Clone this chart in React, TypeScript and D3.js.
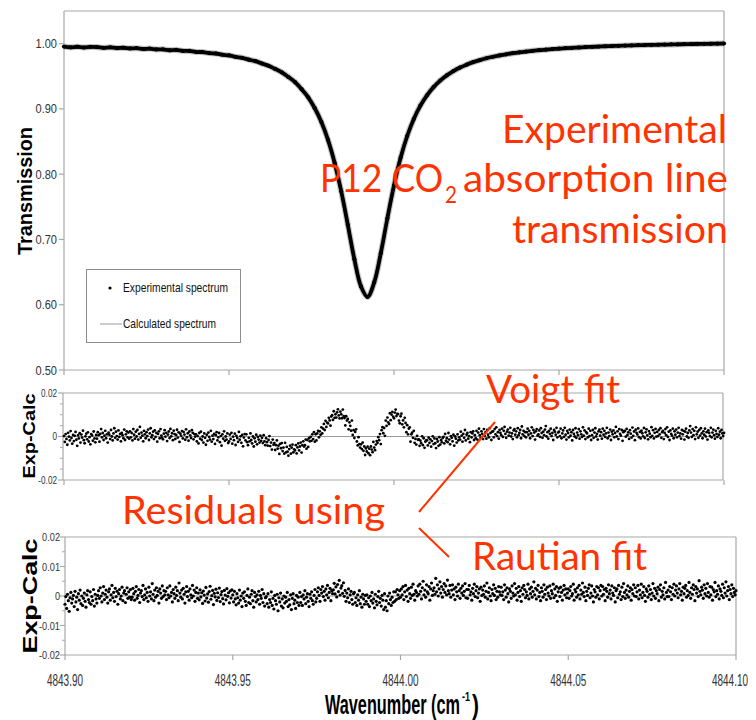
import React from "react";
import * as d3 from "d3";

// ---------- data ----------
const WN_START = 4843.9;
const WN_END = 4844.1;

// Transmission spectrum, evenly sampled from 4843.900 to 4844.100 cm-1
const transmission = [
  0.9955, 0.9944, 0.9952, 0.9941, 0.995, 0.9947, 0.9936, 0.9944, 0.9932, 0.9937,
  0.9926, 0.9931, 0.9918, 0.9924, 0.9911, 0.9913, 0.9899, 0.9903, 0.9889, 0.9888,
  0.9872, 0.9871, 0.9855, 0.9849, 0.983, 0.982, 0.9797, 0.9782, 0.9755, 0.9731,
  0.9695, 0.9661, 0.9612, 0.956, 0.9489, 0.9411, 0.9303, 0.9178, 0.901, 0.8799,
  0.8525, 0.8175, 0.7739, 0.7225, 0.6696, 0.628, 0.612, 0.6341, 0.679, 0.7325,
  0.7828, 0.825, 0.8585, 0.8847, 0.9051, 0.9209, 0.9334, 0.9434, 0.9514, 0.958,
  0.9634, 0.9678, 0.9717, 0.9748, 0.9776, 0.9799, 0.9819, 0.9837, 0.9853, 0.9867,
  0.9879, 0.989, 0.99, 0.9908, 0.9916, 0.9924, 0.993, 0.9936, 0.9941, 0.9947,
  0.9951, 0.9955, 0.996, 0.9963, 0.9967, 0.997, 0.9973, 0.9976, 0.9978, 0.9981,
  0.9983, 0.9985, 0.9988, 0.9989, 0.9992, 0.9994, 0.9995, 0.9997, 0.9998, 1.0,
  1.0002,
];

// Voigt-fit residuals (Exp-Calc) in units of 1e-4, evenly sampled over the range
const voigtResiduals = [
  2,-25,11,-11,-38,17,-1,-18,25,-7,-33,7,-21,3,21,-15,-43,5,-9,15,-28,9,-5,27,-17,-31,1,13,-13,19,-23,-3,-36,11,5,-19,23,-9,-27,7,
  -10,20,6,-24,12,34,-4,16,-16,4,26,-8,10,-28,18,8,-12,30,0,-18,14,38,-6,22,2,-14,28,-2,12,-22,16,6,-8,32,-16,10,24,-4,18,-10,
  24,-4,16,-18,34,8,-10,22,0,30,-14,12,44,-6,18,4,-22,26,10,-8,20,2,32,-16,14,38,-4,6,22,-12,28,-2,16,-24,12,24,-8,34,4,-6,
  -13,13,29,-1,17,-21,9,23,-7,35,1,15,-17,27,11,-11,7,31,-5,19,-25,13,3,25,-9,21,9,-15,33,-3,15,-19,23,5,-7,29,17,-13,11,-1,
  10,-22,2,-32,16,-10,22,-16,0,-28,14,-6,-38,8,-20,18,-2,-14,26,-24,4,-12,12,-34,6,20,-18,-4,16,-26,2,-42,10,-10,24,-20,0,-14,14,-30,
  -23,9,-11,17,-33,-1,-17,13,-39,3,-7,-25,21,-15,1,-29,7,-45,-5,11,-18,10,-26,-40,-6,-22,14,-16,-32,0,-46,-8,-24,8,-36,-2,-14,-28,4,-20,
  -6,-30,6,-22,-40,-8,-26,-42,-16,2,-44,-28,-60,-14,-38,-30,-62,-40,-18,-56,-42,-80,-34,-54,-30,-67,-51,-79,-29,-73,-48,-70,-88,-58,-42,-79,-51,-37,-73,-59,
  -64,-40,-78,-50,-32,-64,-46,-28,-74,-40,-22,-46,-40,-14,-56,-16,-48,-8,-22,-2,-20,10,-12,20,-24,10,-18,14,26,-4,24,8,42,14,36,58,30,72,44,64,
  60,86,74,50,92,98,76,116,86,102,87,111,125,97,83,114,102,84,124,94,85,51,93,73,81,33,65,49,27,73,7,29,-7,21,33,-23,-41,-3,-35,-51,
  -36,-58,-28,-66,-46,-85,-55,-69,-47,-77,-56,-86,-46,-60,-72,-25,-51,-63,-37,-21,-29,-3,-17,11,-35,29,43,15,39,3,73,49,87,65,57,107,75,101,113,91,
  84,110,124,94,104,103,73,61,93,105,56,74,42,86,62,20,52,10,36,42,-24,10,18,-6,26,-29,-11,-37,3,-15,-13,-43,-19,-31,1,-40,-8,-52,-24,-18,
  -17,-41,-5,-29,-13,-47,-21,1,-35,-9,-31,-53,-11,-23,-43,-3,-37,-17,-27,-7,-2,-32,12,-20,-8,-26,16,-14,-36,2,-6,-22,8,-42,0,-10,-28,10,-18,-4,
  -14,22,4,-24,12,-6,30,-18,8,16,-10,2,-26,20,-4,14,24,-16,6,-8,26,-14,18,36,6,-6,24,12,-12,34,2,20,-10,30,8,-4,38,16,-16,22,
  24,-4,34,10,42,2,20,-10,30,16,6,36,-2,26,44,12,-6,22,32,4,18,40,0,14,-12,28,34,8,24,-4,38,6,16,30,-8,46,10,26,2,20,
  -4,20,36,8,26,-8,14,42,2,30,18,-14,24,34,4,10,28,-2,38,16,-6,22,6,32,48,0,20,-10,26,12,36,2,16,-16,30,22,8,40,-4,18,
  22,2,36,-8,14,28,-2,40,8,-14,26,16,-4,32,4,20,-18,30,12,0,38,-6,18,6,34,-10,24,10,-2,42,4,28,-12,20,14,-4,36,2,26,-16,
  6,30,-6,18,38,0,12,-14,24,32,4,20,-10,36,8,26,-2,14,40,-8,18,2,32,-16,22,10,28,-4,16,44,0,24,-12,34,12,4,30,-20,20,26,
  25,-1,35,7,19,-11,29,13,-5,41,3,23,-17,31,17,9,37,-3,21,-9,27,15,1,39,-7,19,33,5,-13,25,13,-3,43,3,29,-9,17,35,-1,21,
  2,30,10,38,-6,20,26,-12,16,34,6,42,-2,22,-16,28,12,4,36,-8,24,8,32,-4,18,40,2,14,-10,30,10,26,-14,22,36,0,16,-6,28,48,
  18,-2,34,6,26,-12,42,10,22,-6,30,4,38,14,-8,24,8,36,0,20,-14,28,16,2,40,-4,18,32,6,-10,26,12,-2,38,8,22,-8,30,14,2,
  16,
];

// Rautian-fit residuals (Exp-Calc) in units of 1e-4
const rautianResiduals = [
  -28,-2,-42,6,-16,-52,-6,12,-24,-10,2,-36,16,-20,-4,-46,8,-14,20,-26,0,-32,-8,10,-18,-38,4,18,-12,-22,14,-28,-2,-16,22,-34,6,-10,-24,2,
  18,-8,28,0,-20,10,32,-12,6,20,-4,-24,14,24,-14,4,36,-6,12,-18,26,-2,16,-28,8,22,-10,0,30,-16,10,18,-22,6,28,-8,14,-4,22,-12,
  -4,26,8,-14,16,32,-8,2,22,-22,10,18,-2,36,-12,4,24,-6,12,-18,30,0,14,-10,42,6,-16,20,-4,28,2,16,-24,24,10,-8,34,-2,18,4,
  16,-12,28,4,-6,34,0,12,-20,22,8,-8,30,2,18,-16,44,10,-4,20,-10,26,6,-24,14,32,-2,16,-14,24,4,-6,36,0,20,-18,12,28,-8,10,
  -13,21,-3,11,-25,17,3,-17,29,-7,7,-21,15,33,-11,1,19,-29,9,-3,23,-15,11,-5,27,-19,5,15,-9,-27,19,3,-13,25,-1,11,-23,17,-7,21,
  4,-20,16,-10,-30,8,-6,-24,20,-14,0,-36,10,-8,14,-18,-32,2,24,-22,-4,-26,6,18,-16,-38,12,-2,-20,4,-12,16,-28,2,-8,22,-22,8,-34,-6,
  -2,-26,8,-38,-12,-22,14,-32,-8,-44,2,-16,-28,6,-50,-6,-20,10,-34,-10,-40,0,-24,-4,-18,12,-36,-12,-30,4,-46,-8,8,-26,-14,-42,2,-22,-4,-32,
  12,-22,-2,-32,4,-10,18,-26,-4,8,-18,-36,6,-8,14,-16,-28,2,22,-20,-8,14,28,2,-18,22,10,32,-2,16,-14,24,4,36,-6,12,26,-16,18,8,
  21,43,7,31,-3,39,15,53,3,27,35,9,45,-1,19,-18,10,-6,24,-22,4,16,-12,-28,8,12,-22,-6,-32,4,-14,18,-26,-4,-38,6,-10,-28,2,-18,
  4,-28,-6,-36,0,-16,12,-24,-10,-40,6,-18,-30,-2,16,-22,-8,-34,2,-14,-46,8,-38,-16,-50,0,-26,10,-12,-32,-4,-22,14,-18,14,-12,22,4,-8,18,
  -4,24,4,32,-12,14,36,-2,20,-18,26,8,-8,30,2,40,6,-14,18,12,0,34,6,40,16,-10,28,50,4,20,-4,38,14,8,32,-14,24,44,2,18,
  28,6,60,14,38,0,24,48,10,32,-4,22,42,12,34,4,54,18,8,36,-4,20,38,4,24,-12,30,14,0,40,18,-8,26,10,34,2,16,42,-6,22,
  -8,22,36,4,14,-14,26,8,40,-2,18,32,-6,10,24,-18,30,2,20,6,34,-4,16,44,-10,12,28,0,-16,22,8,38,2,26,-12,16,-4,32,14,4,
  30,2,14,-12,38,20,-4,28,8,-20,24,16,-8,34,10,0,42,4,26,-14,12,32,-2,18,-18,28,6,36,22,-6,14,2,40,-10,24,8,30,-4,16,48,
  4,26,-10,20,36,-2,12,-16,28,16,-4,38,6,22,-12,30,10,0,34,-8,18,8,40,-6,24,2,32,-18,14,26,-2,30,12,-14,20,36,4,24,-6,10,
  24,-8,18,32,0,8,40,-14,22,14,-4,28,4,36,-10,20,6,44,12,-2,30,-16,16,2,26,38,-6,10,34,0,-20,22,14,-4,32,4,28,-10,18,36,
  0,32,6,22,-16,26,16,-4,38,8,20,-10,34,10,2,28,-20,18,24,-6,36,6,14,-12,30,-2,42,12,-8,20,4,34,-4,16,28,-14,22,8,38,0,
  28,-2,14,36,-10,20,4,40,-6,12,32,2,-18,24,16,-4,34,6,22,-12,10,42,0,26,-8,18,8,30,-16,22,38,-4,16,4,28,-10,46,12,-2,20,
  -2,32,14,-12,28,6,40,0,20,34,10,-6,24,42,4,16,-14,30,8,26,36,-4,18,2,46,12,-8,28,6,38,22,-16,32,10,24,-2,52,16,4,30,
  20,-8,38,8,26,0,42,12,-4,32,4,30,-14,22,14,46,-2,18,6,34,-10,24,16,2,40,-6,28,10,48,0,18,32,-12,22,8,38,-2,26,12,4,
  18,
];

const xTicks = [4843.9, 4843.95, 4844.0, 4844.05, 4844.1];
const xTickLabels = ["4843.90", "4843.95", "4844.00", "4844.05", "4844.10"];
const transTicks = [0.5, 0.6, 0.7, 0.8, 0.9, 1.0];
const voigtTicks = [0.02, 0, -0.02];
const voigtTickLabels = ["0.02", "0", "-0.02"];
const rautianTicks = [0.02, 0.01, 0, -0.01, -0.02];
const rautianTickLabels = ["0.02", "0.01", "0", "-0.01", "-0.02"];
const voigtMinorTicks = [-0.015, -0.01, -0.005, 0.005, 0.01, 0.015];
const rautianMinorTicks = [-0.015, -0.005, 0.005, 0.015];

const legendLabels = ["Experimental spectrum", "Calculated spectrum"];

// ---------- styles ----------
const RED = "#ff3300";
const FRAME = "#a8a8a8";
const TICK_FONT = "'Liberation Sans', Arial, sans-serif";
const BOLD_FONT = "'Liberation Sans', Arial, sans-serif";
const NOTE_FONT = "Lato, 'Open Sans', sans-serif";

function series(values: number[], scale = 1) {
  const step = (WN_END - WN_START) / (values.length - 1);
  return values.map((v, i) => ({ x: WN_START + i * step, y: v * scale }));
}

function CondLabel(props: {
  x: number;
  y: number;
  size: number;
  sx: number;
  children: React.ReactNode;
}) {
  return (
    <text
      transform={`translate(${props.x},${props.y}) scale(${props.sx},1)`}
      dy="0.35em"
      textAnchor="end"
      fontFamily={TICK_FONT}
      fontSize={props.size}
      fill="#333"
    >
      {props.children}
    </text>
  );
}

export default function App() {
  const W = 756;
  const H = 720;

  const xTop = d3.scaleLinear().domain([WN_START, WN_END]).range([64, 724]);
  const yTop = d3.scaleLinear().domain([0.5, 1.05]).range([370, 11]);
  const yMid = d3.scaleLinear().domain([-0.02, 0.02]).range([480, 393]);
  const xBot = d3.scaleLinear().domain([WN_START, WN_END]).range([65, 736]);
  const yBot = d3.scaleLinear().domain([-0.02, 0.02]).range([655, 537]);

  const spec = series(transmission);
  const vRes = series(voigtResiduals, 1e-4);
  const rRes = series(rautianResiduals, 1e-4);

  const line = d3
    .line<{ x: number; y: number }>()
    .x((d) => xTop(d.x))
    .y((d) => yTop(d.y))
    .curve(d3.curveCatmullRom);
  const specPath = line(spec) || "";

  const frame = (x0: number, x1: number, y0: number, y1: number) => (
    <g stroke={FRAME} strokeWidth={1.2} fill="none">
      <line x1={x0} y1={y0} x2={x1} y2={y0} />
      <line x1={x1} y1={y0} x2={x1} y2={y1} />
      <line x1={x0} y1={y1} x2={x1} y2={y1} />
      <line x1={x0} y1={y0} x2={x0} y2={y1} />
    </g>
  );

  const xTickMarks = (xs: d3.ScaleLinear<number, number>, y: number) => (
    <g stroke={FRAME} strokeWidth={1.2}>
      {xTicks.map((t, i) => (
        <line key={i} x1={xs(t)} x2={xs(t)} y1={y} y2={y + 5} />
      ))}
    </g>
  );

  return (
    <div style={{ position: "absolute", left: 0, top: 0 }}>
      <svg width={W} height={H} style={{ display: "block", background: "#fff" }}>
        {/* ---------- Top panel ---------- */}
        {frame(64, 724, 11, 370)}
        {xTickMarks(xTop, 370)}
        {transTicks.map((t, i) => (
          <g key={i}>
            <line x1={59} x2={64} y1={yTop(t)} y2={yTop(t)} stroke={FRAME} strokeWidth={1.2} />
            <CondLabel x={57} y={yTop(t)} size={13} sx={0.85}>
              {d3.format(".2f")(t)}
            </CondLabel>
          </g>
        ))}
        <text
          transform={`translate(32,191) rotate(-90)`}
          textAnchor="middle"
          fontFamily={BOLD_FONT}
          fontWeight="bold"
          fontSize={20}
          textLength={128}
          lengthAdjust="spacingAndGlyphs"
          fill="#000"
        >
          Transmission
        </text>

        {/* calculated spectrum */}
        <path d={specPath} fill="none" stroke="#999" strokeWidth={6} opacity={0.6} />
        {/* experimental spectrum */}
        <path d={specPath} fill="none" stroke="#000" strokeWidth={3.8} />
        {spec.map((d, i) => (
          <circle key={i} cx={xTop(d.x)} cy={yTop(d.y)} r={2.1} fill="#000" />
        ))}

        {/* legend */}
        <rect x={86.5} y={269.5} width={154} height={73} fill="#fff" stroke="#8c8c8c" strokeWidth={1} />
        <circle cx={110} cy={288} r={1.6} fill="#000" />
        <text x={123} y={292} fontFamily={TICK_FONT} fontSize={13} fill="#111" textLength={105} lengthAdjust="spacingAndGlyphs">
          {legendLabels[0]}
        </text>
        <line x1={100} x2={122} y1={324} y2={324} stroke="#999" strokeWidth={1} />
        <text x={123} y={328} fontFamily={TICK_FONT} fontSize={13} fill="#111" textLength={93} lengthAdjust="spacingAndGlyphs">
          {legendLabels[1]}
        </text>

        {/* ---------- Middle panel (Voigt residuals) ---------- */}
        {frame(63, 723, 393, 480)}
        <line x1={63} x2={723} y1={yMid(0)} y2={yMid(0)} stroke="#999" strokeWidth={1.2} />
        {xTickMarks(xTop, 480)}
        {voigtTicks.map((t, i) => (
          <g key={i}>
            <line x1={58} x2={63} y1={yMid(t)} y2={yMid(t)} stroke={FRAME} strokeWidth={1.2} />
            <CondLabel x={57} y={yMid(t)} size={10} sx={0.82}>
              {voigtTickLabels[i]}
            </CondLabel>
          </g>
        ))}
        {voigtMinorTicks.map((t, i) => (
          <line key={i} x1={60} x2={63} y1={yMid(t)} y2={yMid(t)} stroke={FRAME} strokeWidth={1} />
        ))}
        <text
          transform={`translate(35,436) rotate(-90)`}
          textAnchor="middle"
          fontFamily={BOLD_FONT}
          fontWeight="bold"
          fontSize={17}
          textLength={85}
          lengthAdjust="spacingAndGlyphs"
          fill="#000"
        >
          Exp-Calc
        </text>
        {vRes.map((d, i) => (
          <circle key={i} cx={xTop(d.x)} cy={yMid(d.y)} r={1.4} fill="#000" />
        ))}

        {/* ---------- Bottom panel (Rautian residuals) ---------- */}
        {frame(65, 736, 537, 655)}
        <line x1={65} x2={736} y1={yBot(0)} y2={yBot(0)} stroke="#999" strokeWidth={1.2} />
        {xTickMarks(xBot, 655)}
        {rautianTicks.map((t, i) => (
          <g key={i}>
            <line x1={60} x2={65} y1={yBot(t)} y2={yBot(t)} stroke={FRAME} strokeWidth={1.2} />
            <CondLabel x={60} y={yBot(t)} size={11.5} sx={0.8}>
              {rautianTickLabels[i]}
            </CondLabel>
          </g>
        ))}
        {rautianMinorTicks.map((t, i) => (
          <line key={i} x1={62} x2={65} y1={yBot(t)} y2={yBot(t)} stroke={FRAME} strokeWidth={1} />
        ))}
        <text
          transform={`translate(37,596) rotate(-90)`}
          textAnchor="middle"
          fontFamily={BOLD_FONT}
          fontWeight="bold"
          fontSize={20}
          textLength={115}
          lengthAdjust="spacingAndGlyphs"
          fill="#000"
        >
          Exp-Calc
        </text>
        {rRes.map((d, i) => (
          <circle key={i} cx={xBot(d.x)} cy={yBot(d.y)} r={1.6} fill="#000" />
        ))}
        {xTicks.map((t, i) => (
          <text
            key={i}
            x={Math.min(xBot(t), 730)}
            y={686}
            textAnchor="middle"
            fontFamily={TICK_FONT}
            fontSize={16.5}
            fill="#333"
            textLength={36}
            lengthAdjust="spacingAndGlyphs"
          >
            {xTickLabels[i]}
          </text>
        ))}

        {/* x-axis title */}
        <text x={325} y={714} fontFamily={BOLD_FONT} fontWeight="bold" fontSize={27} fill="#000" textLength={135} lengthAdjust="spacingAndGlyphs">
          Wavenumber (cm
        </text>
        <text x={462} y={701} fontFamily={BOLD_FONT} fontWeight="bold" fontSize={13} fill="#000" textLength={8} lengthAdjust="spacingAndGlyphs">
          -1
        </text>
        <text x={472} y={714} fontFamily={BOLD_FONT} fontWeight="bold" fontSize={27} fill="#000" textLength={7} lengthAdjust="spacingAndGlyphs">
          )
        </text>

        {/* ---------- Red annotations ---------- */}
        <g fontFamily={NOTE_FONT} fontSize={38} fill={RED}>
          <text x={502} y={143} textLength={225} lengthAdjust="spacingAndGlyphs">Experimental</text>
          <text x={320} y={192} textLength={123} lengthAdjust="spacingAndGlyphs">P12 CO</text>
          <text x={445} y={203} fontSize={24} textLength={12} lengthAdjust="spacingAndGlyphs">2</text>
          <text x={463} y={192} textLength={265} lengthAdjust="spacingAndGlyphs">absorption line</text>
          <text x={512} y={243} textLength={216} lengthAdjust="spacingAndGlyphs">transmission</text>
          <text x={486} y={403} textLength={134} lengthAdjust="spacingAndGlyphs">Voigt fit</text>
          <text x={122} y={524} textLength={263} lengthAdjust="spacingAndGlyphs">Residuals using</text>
          <text x={472} y={570} textLength={175} lengthAdjust="spacingAndGlyphs">Rautian fit</text>
        </g>
        <g stroke={RED} strokeWidth={2}>
          <line x1={419} y1={512} x2={495} y2={422} />
          <line x1={419} y1={528} x2={449} y2={557} />
        </g>
      </svg>
    </div>
  );
}
